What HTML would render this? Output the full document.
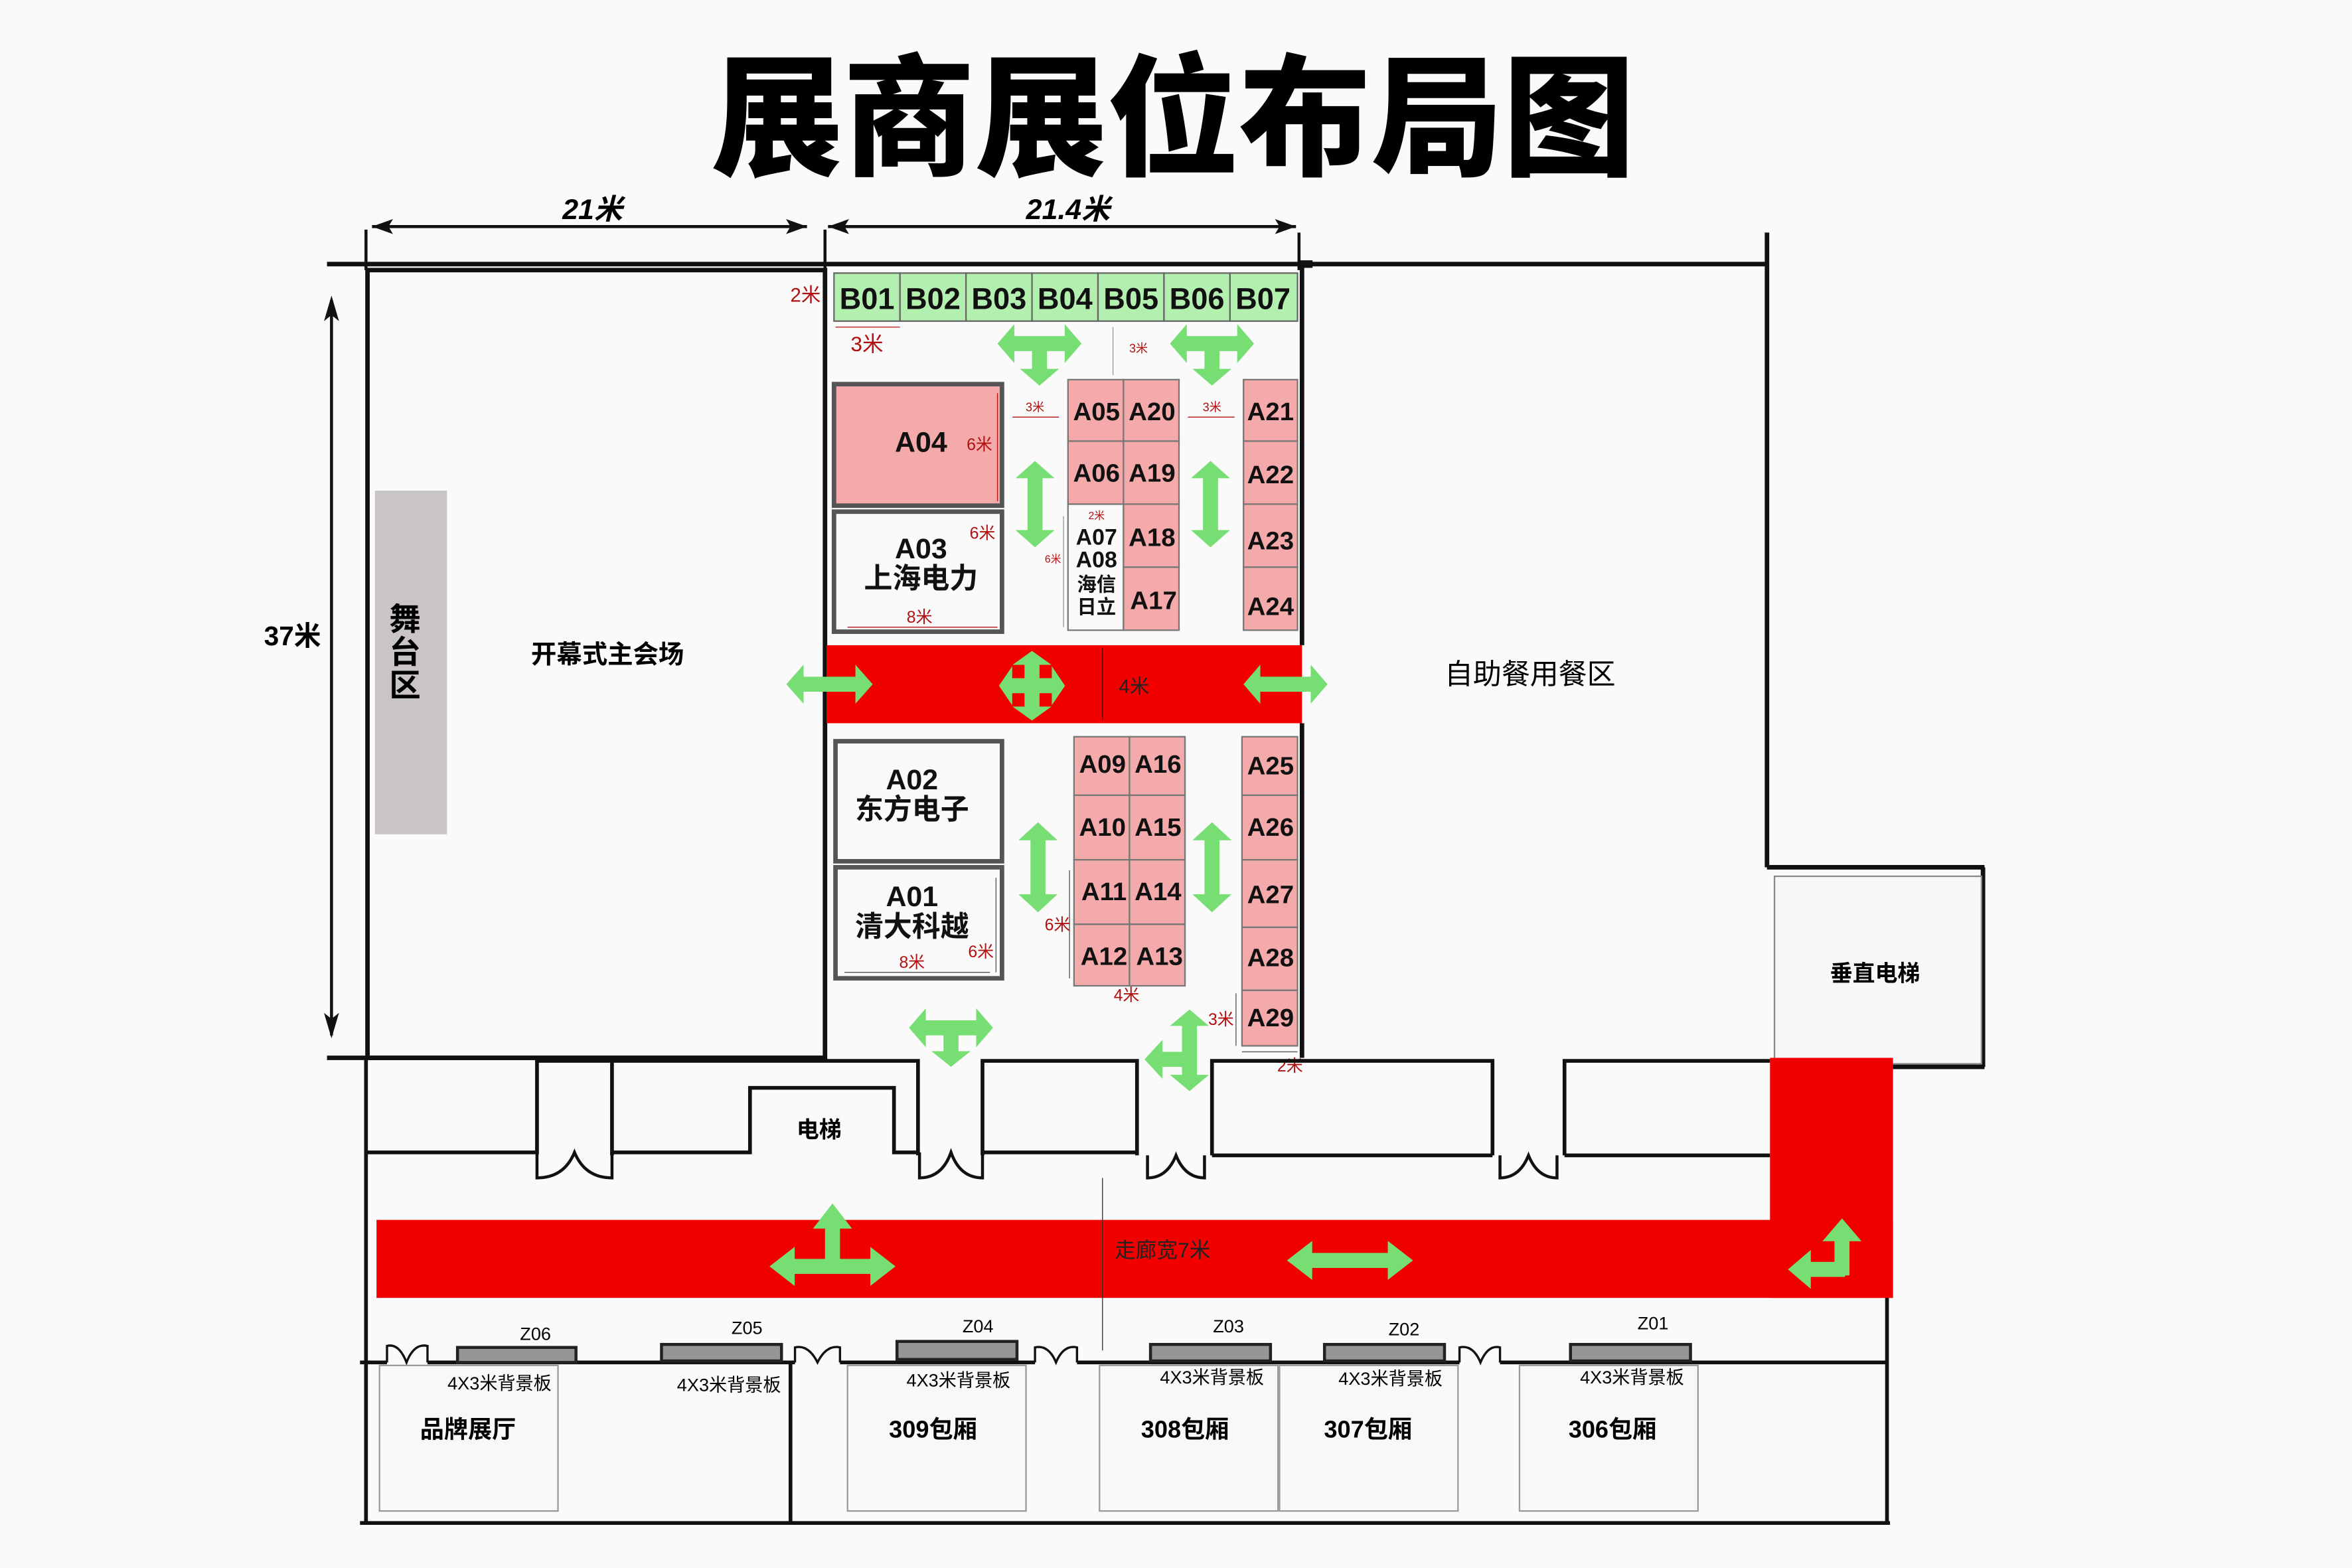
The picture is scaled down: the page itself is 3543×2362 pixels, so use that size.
<!DOCTYPE html>
<html><head><meta charset="utf-8"><style>
html,body{margin:0;padding:0;background:#fafafa;}
svg{display:block;}
text{font-family:"Liberation Sans","Noto Sans CJK SC",sans-serif;}
.b{font-weight:bold;}
.lab{font-weight:bold;font-size:17px;text-anchor:middle;fill:#111;}
.red{fill:#b01010;font-size:11px;text-anchor:middle;}
.w{fill:none;stroke:#111;stroke-width:3;}
.t{fill:none;stroke:#111;stroke-width:2.5;}
.pk{fill:#f4aaaa;stroke:#777;stroke-width:1;}
.gr{fill:#b3f0b0;stroke:#666;stroke-width:1;}
.ar{fill:#76de72;}
</style></head><body>
<svg width="3543" height="2362" viewBox="0 0 1568 1045" preserveAspectRatio="none" xmlns="http://www.w3.org/2000/svg">
<defs>
<path id="da" d="M-40 0 L-24 -13 L-24 -5 L24 -5 L24 -13 L40 0 L24 13 L24 5 L-24 5 L-24 13 Z"/>
<path id="sa" d="M0 -5 L24 -5 L24 -13 L40 0 L24 13 L24 5 L0 5 Z"/>
</defs>
<rect width="1568" height="1045" fill="#fafafa"/>
<!-- title -->
<text x="782" y="110" text-anchor="middle" class="b" style="font-size:88px;font-weight:900" fill="#000">展商展位布局图</text>

<!-- dimension lines -->
<text x="395" y="146" text-anchor="middle" class="b" style="font-size:19px;font-style:italic">21米</text>
<text x="712" y="146" text-anchor="middle" class="b" style="font-size:19px;font-style:italic">21.4米</text>
<line x1="248" y1="151" x2="538" y2="151" stroke="#111" stroke-width="2"/>
<path d="M248 151 L262 146 L259 151 L262 156 Z M538 151 L524 146 L527 151 L524 156 Z" fill="#111"/>
<line x1="552" y1="151" x2="864" y2="151" stroke="#111" stroke-width="2"/>
<path d="M552 151 L566 146 L563 151 L566 156 Z M864 151 L850 146 L853 151 L850 156 Z" fill="#111"/>
<line x1="244" y1="153" x2="244" y2="180" stroke="#111" stroke-width="2"/>
<line x1="550" y1="153" x2="550" y2="180" stroke="#111" stroke-width="2"/>
<line x1="866" y1="155" x2="866" y2="180" stroke="#111" stroke-width="2"/>
<line x1="1178" y1="155" x2="1178" y2="176" stroke="#111" stroke-width="2"/>
<!-- vertical 37m -->
<line x1="221" y1="200" x2="221" y2="690" stroke="#111" stroke-width="2"/>
<path d="M221 197 L216 214 L221 210 L226 214 Z M221 692 L216 675 L221 679 L226 675 Z" fill="#111"/>
<text x="195" y="430" text-anchor="middle" class="b" style="font-size:18px">37米</text>

<!-- top wall -->
<line x1="218" y1="176" x2="1178" y2="176" class="w"/>
<line x1="866" y1="176" x2="875" y2="176" stroke="#111" stroke-width="5"/>
<!-- left hall -->
<rect x="245" y="180" width="305" height="525" class="w"/>
<rect x="250" y="327" width="48" height="229" fill="#c9c5c5"/>
<text x="270" y="420" text-anchor="middle" class="b" style="font-size:21px">舞</text>
<text x="270" y="442" text-anchor="middle" class="b" style="font-size:21px">台</text>
<text x="270" y="464" text-anchor="middle" class="b" style="font-size:21px">区</text>
<text x="405" y="442" text-anchor="middle" style="font-size:17px;font-weight:bold">开幕式主会场</text>

<!-- middle hall right wall -->
<line x1="868" y1="176" x2="868" y2="430" class="w"/>
<line x1="868" y1="482" x2="868" y2="705" class="w"/>
<!-- right area -->
<line x1="1178" y1="155" x2="1178" y2="578" class="w"/>
<line x1="1178" y1="578" x2="1323" y2="578" class="w"/>
<line x1="1322" y1="578" x2="1322" y2="711" class="w"/>
<line x1="1262" y1="711" x2="1323" y2="711" class="w"/>
<rect x="1183" y="584" width="138" height="125" fill="#f7f7f7" stroke="#888" stroke-width="1"/>
<text x="1250" y="654" text-anchor="middle" class="b" style="font-size:15px">垂直电梯</text>
<text x="1020" y="456" text-anchor="middle" style="font-size:19px">自助餐用餐区</text>

<!-- B row -->
<g>
<rect x="556" y="182" width="44" height="32" class="gr"/><rect x="600" y="182" width="44" height="32" class="gr"/>
<rect x="644" y="182" width="44" height="32" class="gr"/><rect x="688" y="182" width="44" height="32" class="gr"/>
<rect x="732" y="182" width="44" height="32" class="gr"/><rect x="776" y="182" width="44" height="32" class="gr"/>
<rect x="820" y="182" width="45" height="32" class="gr"/>
<text x="578" y="206" class="lab" style="font-size:20px">B01</text><text x="622" y="206" class="lab" style="font-size:20px">B02</text>
<text x="666" y="206" class="lab" style="font-size:20px">B03</text><text x="710" y="206" class="lab" style="font-size:20px">B04</text>
<text x="754" y="206" class="lab" style="font-size:20px">B05</text><text x="798" y="206" class="lab" style="font-size:20px">B06</text>
<text x="842" y="206" class="lab" style="font-size:20px">B07</text>
</g>
<text x="537" y="201" class="red" style="font-size:13px">2米</text>
<line x1="557" y1="218" x2="600" y2="218" stroke="#b01010" stroke-width="0.6"/>
<text x="578" y="234" class="red" style="font-size:14px">3米</text>
<line x1="742" y1="218" x2="742" y2="250" stroke="#999" stroke-width="0.6"/>
<text x="759" y="235" class="red" style="font-size:8px">3米</text>

<!-- A04 A03 -->
<rect x="556" y="256" width="112" height="81" fill="#f4aaaa" stroke="#555" stroke-width="3"/>
<text x="614" y="301" class="lab" style="font-size:19px">A04</text>
<text x="653" y="300" class="red" style="font-size:11px">6米</text>
<line x1="665" y1="262" x2="665" y2="334" stroke="#b01010" stroke-width="0.6"/>
<rect x="556" y="341" width="112" height="80" fill="#fafafa" stroke="#555" stroke-width="3"/>
<text x="614" y="372" class="lab" style="font-size:19px">A03</text>
<text x="614" y="392" class="lab" style="font-size:19px">上海电力</text>
<text x="655" y="359" class="red" style="font-size:11px">6米</text>
<text x="613" y="415" class="red" style="font-size:11px">8米</text>
<line x1="565" y1="418" x2="665" y2="418" stroke="#b01010" stroke-width="0.6"/>

<!-- A05 column -->
<line x1="675" y1="278" x2="706" y2="278" stroke="#b01010" stroke-width="0.6"/>
<text x="690" y="274" class="red" style="font-size:8px">3米</text>
<line x1="792" y1="278" x2="823" y2="278" stroke="#b01010" stroke-width="0.6"/>
<text x="808" y="274" class="red" style="font-size:8px">3米</text>
<rect x="712" y="253" width="37" height="41" class="pk"/><rect x="749" y="253" width="37" height="41" class="pk"/>
<rect x="712" y="294" width="37" height="42" class="pk"/><rect x="749" y="294" width="37" height="42" class="pk"/>
<rect x="712" y="336" width="37" height="84" fill="#fafafa" stroke="#777" stroke-width="1"/>
<rect x="749" y="336" width="37" height="42" class="pk"/><rect x="749" y="378" width="37" height="42" class="pk"/>
<text x="731" y="280" class="lab">A05</text><text x="768" y="280" class="lab">A20</text>
<text x="731" y="321" class="lab">A06</text><text x="768" y="321" class="lab">A19</text>
<text x="731" y="346" class="red" style="font-size:7px">2米</text>
<text x="731" y="363" class="lab" style="font-size:15px">A07</text>
<text x="731" y="378" class="lab" style="font-size:15px">A08</text>
<text x="731" y="394" class="lab" style="font-size:13px">海信</text>
<text x="731" y="409" class="lab" style="font-size:13px">日立</text>
<text x="768" y="364" class="lab">A18</text><text x="769" y="406" class="lab">A17</text>
<line x1="709" y1="344" x2="709" y2="418" stroke="#999" stroke-width="0.6"/>
<text x="702" y="375" class="red" style="font-size:7px">6米</text>
<!-- A21 column -->
<rect x="829" y="253" width="36" height="41" class="pk"/><rect x="829" y="294" width="36" height="42" class="pk"/>
<rect x="829" y="336" width="36" height="42" class="pk"/><rect x="829" y="378" width="36" height="42" class="pk"/>
<text x="847" y="280" class="lab">A21</text><text x="847" y="322" class="lab">A22</text>
<text x="847" y="366" class="lab">A23</text><text x="847" y="410" class="lab">A24</text>

<!-- red band -->
<rect x="551" y="430" width="317" height="52" fill="#f20000"/>
<line x1="735" y1="432" x2="735" y2="480" stroke="#600" stroke-width="0.6"/>
<text x="756" y="462" text-anchor="middle" style="font-size:13px" fill="#222">4米</text>

<!-- lower blocks -->
<rect x="557" y="494" width="111" height="80" fill="#fafafa" stroke="#555" stroke-width="3"/>
<text x="608" y="526" class="lab" style="font-size:19px">A02</text>
<text x="608" y="546" class="lab" style="font-size:19px">东方电子</text>
<rect x="557" y="578" width="111" height="74" fill="#fafafa" stroke="#555" stroke-width="3"/>
<text x="608" y="604" class="lab" style="font-size:19px">A01</text>
<text x="608" y="624" class="lab" style="font-size:19px">清大科越</text>
<text x="654" y="638" class="red" style="font-size:11px">6米</text>
<text x="608" y="645" class="red" style="font-size:11px">8米</text>
<line x1="563" y1="648" x2="660" y2="648" stroke="#555" stroke-width="0.6"/>
<line x1="664" y1="585" x2="664" y2="648" stroke="#555" stroke-width="0.6"/>

<rect x="716" y="491" width="37" height="39" class="pk"/><rect x="753" y="491" width="37" height="39" class="pk"/>
<rect x="716" y="530" width="37" height="43" class="pk"/><rect x="753" y="530" width="37" height="43" class="pk"/>
<rect x="716" y="573" width="37" height="43" class="pk"/><rect x="753" y="573" width="37" height="43" class="pk"/>
<rect x="716" y="616" width="37" height="41" class="pk"/><rect x="753" y="616" width="37" height="41" class="pk"/>
<text x="735" y="515" class="lab">A09</text><text x="772" y="515" class="lab">A16</text>
<text x="735" y="557" class="lab">A10</text><text x="772" y="557" class="lab">A15</text>
<text x="736" y="600" class="lab">A11</text><text x="772" y="600" class="lab">A14</text>
<text x="736" y="643" class="lab">A12</text><text x="773" y="643" class="lab">A13</text>
<line x1="713" y1="580" x2="713" y2="652" stroke="#555" stroke-width="0.6"/>
<text x="705" y="620" class="red" style="font-size:11px">6米</text>
<text x="751" y="667" class="red" style="font-size:11px">4米</text>
<rect x="828" y="491" width="37" height="39" class="pk"/><rect x="828" y="530" width="37" height="43" class="pk"/>
<rect x="828" y="573" width="37" height="45" class="pk"/><rect x="828" y="618" width="37" height="42" class="pk"/>
<rect x="828" y="660" width="37" height="37" class="pk"/>
<text x="847" y="516" class="lab">A25</text><text x="847" y="557" class="lab">A26</text>
<text x="847" y="602" class="lab">A27</text><text x="847" y="644" class="lab">A28</text>
<text x="847" y="684" class="lab">A29</text>
<text x="814" y="683" class="red" style="font-size:11px">3米</text>
<line x1="824" y1="662" x2="824" y2="697" stroke="#555" stroke-width="0.6"/>
<line x1="828" y1="701" x2="865" y2="701" stroke="#555" stroke-width="0.6"/>
<text x="860" y="714" class="red" style="font-size:11px">2米</text>

<!-- row of rooms under halls -->
<polyline points="218,705 550,705" class="w"/>
<polyline points="244,705 244,1015" class="t"/>
<polyline points="244,768 358,768 358,707 550,707 612,707 612,770" class="t"/>
<polyline points="408,707 408,770 408,768 500,768 500,725 596,725 596,768 613,768" class="t"/>
<polyline points="655,770 655,707 758,707 758,770" class="t"/>
<polyline points="808,770 808,707 995,707 995,770" class="t"/>
<polyline points="1043,770 1043,707 1180,707" class="t"/>
<polyline points="808,770 995,770" class="t"/>
<polyline points="1043,770 1180,770" class="t"/>
<polyline points="655,768 758,768" class="t"/>
<text x="546" y="758" text-anchor="middle" class="b" style="font-size:15px">电梯</text>
<!-- doors -->
<path d="M358 768 L358 785 Q376 785 383 768 Q390 785 408 785 L408 768" fill="none" stroke="#111" stroke-width="2"/>
<path d="M613 768 L613 785 Q628 785 634 768 Q640 785 655 785 L655 768" fill="none" stroke="#111" stroke-width="2"/>
<path d="M765 770 L765 785 Q778 785 784 770 Q790 785 803 785 L803 770" fill="none" stroke="#111" stroke-width="2"/>
<path d="M1000 770 L1000 785 Q1013 785 1019 770 Q1025 785 1038 785 L1038 770" fill="none" stroke="#111" stroke-width="2"/>

<!-- corridor -->
<rect x="251" y="813" width="1011" height="52" fill="#f20000"/>
<rect x="1180" y="705" width="82" height="160" fill="#f20000"/>
<line x1="735" y1="785" x2="735" y2="900" stroke="#333" stroke-width="0.6"/>
<text x="775" y="838" text-anchor="middle" style="font-size:14px" fill="#222">走廊宽7米</text>
<line x1="1258" y1="865" x2="1258" y2="1015" class="t"/>

<!-- bottom rooms -->
<line x1="240" y1="908" x2="258" y2="908" class="t"/>
<line x1="285" y1="908" x2="530" y2="908" class="t"/>
<line x1="560" y1="908" x2="690" y2="908" class="t"/>
<line x1="718" y1="908" x2="973" y2="908" class="t"/>
<line x1="1000" y1="908" x2="1258" y2="908" class="t"/>
<line x1="240" y1="1015" x2="1260" y2="1015" class="t"/>
<line x1="527" y1="908" x2="527" y2="1015" class="t"/>
<path d="M258 908 L258 897 Q266 895 271 908 Q276 895 285 897 L285 908" fill="none" stroke="#111" stroke-width="1.5"/>
<path d="M530 908 L530 898 Q539 896 545 908 Q551 896 560 898 L560 908" fill="none" stroke="#111" stroke-width="1.5"/>
<path d="M690 908 L690 898 Q699 896 704 908 Q709 896 718 898 L718 908" fill="none" stroke="#111" stroke-width="1.5"/>
<path d="M973 908 L973 898 Q982 896 987 908 Q992 896 1000 898 L1000 908" fill="none" stroke="#111" stroke-width="1.5"/>
<g fill="#f8f8f8" stroke="#999" stroke-width="1">
<rect x="253" y="910" width="119" height="97"/>
<rect x="565" y="910" width="119" height="97"/>
<rect x="733" y="910" width="119" height="97"/>
<rect x="853" y="910" width="119" height="97"/>
<rect x="1013" y="910" width="119" height="97"/>
</g>
<g fill="#969696" stroke="#222" stroke-width="2">
<rect x="305" y="898" width="79" height="10"/>
<rect x="441" y="896" width="80" height="11"/>
<rect x="598" y="894" width="80" height="12"/>
<rect x="767" y="896" width="80" height="11"/>
<rect x="883" y="896" width="80" height="11"/>
<rect x="1047" y="896" width="80" height="11"/>
</g>
<g style="font-size:12px" text-anchor="middle">
<text x="357" y="893">Z06</text><text x="498" y="889">Z05</text><text x="652" y="888">Z04</text>
<text x="819" y="888">Z03</text><text x="936" y="890">Z02</text><text x="1102" y="886">Z01</text>
<text x="333" y="926">4X3米背景板</text><text x="486" y="927">4X3米背景板</text><text x="639" y="924">4X3米背景板</text>
<text x="808" y="922">4X3米背景板</text><text x="927" y="923">4X3米背景板</text><text x="1088" y="922">4X3米背景板</text>
</g>
<g class="b" style="font-size:16px" text-anchor="middle">
<text x="312" y="958">品牌展厅</text><text x="622" y="958">309包厢</text><text x="790" y="958">308包厢</text>
<text x="912" y="958">307包厢</text><text x="1075" y="958">306包厢</text>
</g>

<!-- arrows -->
<g class="ar">
<use href="#da" transform="translate(693,229) scale(0.7,1)"/>
<use href="#sa" transform="translate(693,229) rotate(90) scale(0.7,1)"/>
<use href="#da" transform="translate(808,229) scale(0.7,1)"/>
<use href="#sa" transform="translate(808,229) rotate(90) scale(0.7,1)"/>
<use href="#da" transform="translate(690,336) rotate(90) scale(0.72,1)"/>
<use href="#da" transform="translate(807,336) rotate(90) scale(0.72,1)"/>
<use href="#da" transform="translate(692,578) rotate(90) scale(0.75,1)"/>
<use href="#da" transform="translate(808,578) rotate(90) scale(0.75,1)"/>
<use href="#da" transform="translate(553,456) scale(0.72,1)"/>
<use href="#da" transform="translate(688,457) scale(0.55,1)"/>
<use href="#da" transform="translate(688,457) rotate(90) scale(0.58,1)"/>
<use href="#da" transform="translate(857,456) scale(0.7,1)"/>
<use href="#da" transform="translate(634,685) scale(0.7,1)"/>
<use href="#sa" transform="translate(634,685) rotate(90) scale(0.65,1)"/>
<use href="#da" transform="translate(793,700) rotate(90) scale(0.68,1)"/>
<use href="#sa" transform="translate(793,706) rotate(180) scale(0.75,1)"/>
<use href="#da" transform="translate(555,844) scale(1.05,1)"/>
<use href="#sa" transform="translate(555,844) rotate(-90) scale(1.05,1)"/>
<use href="#da" transform="translate(900,840) scale(1.05,1)"/>
<use href="#sa" transform="translate(1230,846) rotate(180) scale(0.95,1)"/>
<use href="#sa" transform="translate(1228,850) rotate(-90) scale(0.95,1)"/>
</g>
</svg>
</body></html>
